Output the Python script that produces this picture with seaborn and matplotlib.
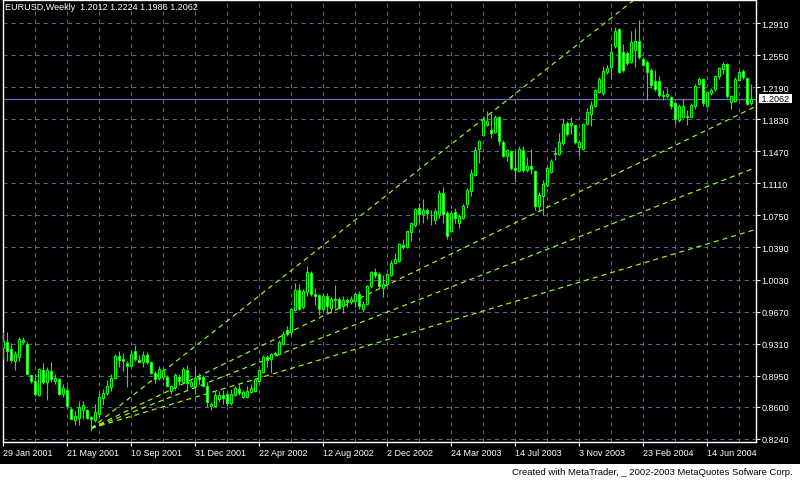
import numpy as np
import matplotlib
matplotlib.use("Agg")
import matplotlib.pyplot as plt
import matplotlib.transforms as mtransforms
from matplotlib.patches import Rectangle
import seaborn as sns

# EURUSD weekly candles from 29 Jan 2001
opens = [0.926, 0.933, 0.925, 0.912, 0.916, 0.933, 0.931, 0.896, 0.889, 0.873,
         0.902, 0.888, 0.900, 0.889, 0.891, 0.875, 0.879, 0.858, 0.845, 0.848,
         0.857, 0.856, 0.849, 0.845, 0.852, 0.870, 0.876, 0.882, 0.892, 0.917,
         0.914, 0.909, 0.906, 0.923, 0.913, 0.910, 0.918, 0.910, 0.898, 0.892,
         0.894, 0.894, 0.878, 0.882, 0.894, 0.888, 0.902, 0.883, 0.884, 0.894,
         0.894, 0.884, 0.861, 0.861, 0.869, 0.873, 0.875, 0.864, 0.873, 0.880,
         0.871, 0.871, 0.877, 0.878, 0.889, 0.899, 0.916, 0.914, 0.919, 0.919,
         0.931, 0.946, 0.944, 0.969, 0.991, 0.972, 0.989, 1.010, 0.987, 0.986,
         0.970, 0.984, 0.971, 0.981, 0.981, 0.973, 0.980, 0.978, 0.979, 0.987,
         0.970, 0.976, 0.996, 1.011, 1.009, 0.993, 0.998, 1.008, 1.022, 1.024,
         1.042, 1.040, 1.056, 1.064, 1.083, 1.077, 1.081, 1.076, 1.070, 1.077,
         1.100, 1.078, 1.058, 1.079, 1.067, 1.072, 1.088, 1.102, 1.120, 1.150,
         1.165, 1.177, 1.171, 1.169, 1.186, 1.157, 1.142, 1.147, 1.128, 1.125,
         1.148, 1.126, 1.130, 1.125, 1.086, 1.097, 1.109, 1.124, 1.144, 1.144,
         1.156, 1.179, 1.176, 1.176, 1.152, 1.149, 1.178, 1.189, 1.198, 1.213,
         1.212, 1.236, 1.242, 1.265, 1.284, 1.258, 1.257, 1.247, 1.261, 1.271,
         1.251, 1.247, 1.238, 1.226, 1.226, 1.210, 1.209, 1.208, 1.201, 1.182,
         1.186, 1.187, 1.186, 1.198, 1.222, 1.228, 1.198, 1.212, 1.217, 1.231,
         1.239, 1.245, 1.202, 1.203, 1.227, 1.237, 1.229, 1.2012]
highs = [0.944, 0.944, 0.932, 0.923, 0.938, 0.938, 0.933, 0.897, 0.897, 0.904,
         0.909, 0.905, 0.910, 0.897, 0.893, 0.886, 0.883, 0.860, 0.855, 0.867,
         0.867, 0.858, 0.850, 0.863, 0.877, 0.880, 0.890, 0.897, 0.919, 0.923,
         0.921, 0.911, 0.924, 0.930, 0.918, 0.923, 0.922, 0.912, 0.900, 0.906,
         0.904, 0.896, 0.884, 0.898, 0.897, 0.905, 0.907, 0.890, 0.906, 0.898,
         0.896, 0.888, 0.866, 0.878, 0.878, 0.879, 0.876, 0.880, 0.884, 0.887,
         0.879, 0.884, 0.886, 0.893, 0.901, 0.918, 0.918, 0.921, 0.923, 0.935,
         0.945, 0.951, 0.971, 0.999, 0.998, 0.992, 1.018, 1.013, 0.993, 0.987,
         0.988, 0.988, 0.983, 0.997, 0.983, 0.984, 0.982, 0.985, 0.989, 0.990,
         0.979, 0.997, 1.013, 1.016, 1.011, 1.008, 1.010, 1.025, 1.033, 1.044,
         1.049, 1.058, 1.068, 1.083, 1.089, 1.093, 1.083, 1.081, 1.083, 1.104,
         1.107, 1.080, 1.081, 1.083, 1.077, 1.088, 1.106, 1.127, 1.153, 1.160,
         1.184, 1.192, 1.190, 1.188, 1.187, 1.160, 1.150, 1.148, 1.147, 1.153,
         1.153, 1.141, 1.150, 1.126, 1.101, 1.115, 1.131, 1.138, 1.152, 1.168,
         1.184, 1.181, 1.185, 1.177, 1.159, 1.179, 1.196, 1.203, 1.217, 1.230,
         1.243, 1.244, 1.267, 1.286, 1.285, 1.267, 1.260, 1.282, 1.285, 1.294,
         1.253, 1.249, 1.240, 1.238, 1.232, 1.216, 1.218, 1.209, 1.202, 1.200,
         1.206, 1.193, 1.201, 1.222, 1.230, 1.229, 1.215, 1.218, 1.233, 1.242,
         1.247, 1.246, 1.210, 1.230, 1.238, 1.239, 1.230, 1.2224]
lows = [0.914, 0.912, 0.910, 0.901, 0.911, 0.931, 0.897, 0.887, 0.872, 0.872,
        0.886, 0.868, 0.888, 0.886, 0.873, 0.871, 0.860, 0.846, 0.840, 0.840,
        0.847, 0.847, 0.833, 0.843, 0.848, 0.862, 0.873, 0.878, 0.891, 0.905,
        0.900, 0.882, 0.905, 0.912, 0.909, 0.905, 0.908, 0.897, 0.887, 0.890,
        0.890, 0.882, 0.874, 0.879, 0.885, 0.887, 0.878, 0.882, 0.874, 0.886,
        0.882, 0.860, 0.856, 0.860, 0.866, 0.863, 0.861, 0.862, 0.872, 0.873,
        0.870, 0.870, 0.876, 0.877, 0.887, 0.898, 0.905, 0.898, 0.917, 0.918,
        0.930, 0.940, 0.940, 0.968, 0.969, 0.970, 0.985, 0.984, 0.974, 0.963,
        0.968, 0.966, 0.966, 0.971, 0.970, 0.965, 0.972, 0.975, 0.972, 0.970,
        0.967, 0.974, 0.994, 1.005, 0.994, 0.983, 0.996, 1.007, 1.021, 1.023,
        1.037, 1.038, 1.046, 1.062, 1.068, 1.066, 1.071, 1.064, 1.065, 1.072,
        1.066, 1.049, 1.056, 1.066, 1.061, 1.071, 1.083, 1.097, 1.119, 1.134,
        1.164, 1.175, 1.162, 1.168, 1.154, 1.141, 1.136, 1.126, 1.114, 1.124,
        1.124, 1.124, 1.122, 1.081, 1.079, 1.075, 1.107, 1.123, 1.137, 1.143,
        1.154, 1.164, 1.166, 1.155, 1.142, 1.148, 1.177, 1.175, 1.197, 1.212,
        1.210, 1.234, 1.229, 1.263, 1.235, 1.236, 1.244, 1.246, 1.242, 1.251,
        1.243, 1.204, 1.218, 1.215, 1.208, 1.204, 1.207, 1.195, 1.178, 1.180,
        1.184, 1.177, 1.185, 1.195, 1.221, 1.198, 1.197, 1.210, 1.215, 1.228,
        1.234, 1.207, 1.195, 1.202, 1.226, 1.228, 1.199, 1.1986]
closes = [0.934, 0.923, 0.913, 0.919, 0.936, 0.935, 0.897, 0.889, 0.875, 0.903,
          0.888, 0.902, 0.891, 0.892, 0.875, 0.881, 0.861, 0.847, 0.850, 0.860,
          0.862, 0.848, 0.847, 0.854, 0.871, 0.876, 0.884, 0.892, 0.917, 0.913,
          0.911, 0.906, 0.919, 0.914, 0.910, 0.918, 0.910, 0.898, 0.891, 0.903,
          0.901, 0.883, 0.883, 0.896, 0.889, 0.903, 0.887, 0.888, 0.893, 0.891,
          0.883, 0.865, 0.863, 0.873, 0.873, 0.870, 0.864, 0.874, 0.881, 0.876,
          0.877, 0.878, 0.881, 0.891, 0.901, 0.916, 0.913, 0.919, 0.921, 0.933,
          0.942, 0.942, 0.970, 0.991, 0.970, 0.990, 1.011, 0.987, 0.985, 0.970,
          0.985, 0.973, 0.981, 0.980, 0.971, 0.980, 0.978, 0.981, 0.987, 0.973,
          0.976, 0.996, 1.012, 1.008, 0.996, 0.998, 1.009, 1.022, 1.026, 1.043,
          1.039, 1.057, 1.066, 1.082, 1.077, 1.081, 1.078, 1.075, 1.080, 1.100,
          1.077, 1.052, 1.078, 1.072, 1.074, 1.086, 1.103, 1.123, 1.148, 1.158,
          1.183, 1.181, 1.168, 1.186, 1.159, 1.142, 1.148, 1.128, 1.126, 1.149,
          1.126, 1.130, 1.127, 1.086, 1.098, 1.110, 1.128, 1.136, 1.145, 1.157,
          1.178, 1.166, 1.179, 1.157, 1.157, 1.178, 1.191, 1.199, 1.216, 1.228,
          1.237, 1.241, 1.258, 1.282, 1.236, 1.238, 1.246, 1.270, 1.271, 1.253,
          1.244, 1.236, 1.221, 1.217, 1.210, 1.209, 1.211, 1.198, 1.183, 1.198,
          1.198, 1.186, 1.199, 1.220, 1.228, 1.201, 1.213, 1.216, 1.231, 1.240,
          1.245, 1.209, 1.209, 1.228, 1.236, 1.230, 1.200, 1.2062]

date_labels = ["29 Jan 2001", "21 May 2001", "10 Sep 2001", "31 Dec 2001",
               "22 Apr 2002", "12 Aug 2002", "2 Dec 2002", "24 Mar 2003",
               "14 Jul 2003", "3 Nov 2003", "23 Feb 2004", "14 Jun 2004"]
price_labels = ["1.2910", "1.2550", "1.2190", "1.1830", "1.1470", "1.1110",
                "1.0750", "1.0390", "1.0030", "0.9670", "0.9310", "0.8950",
                "0.8600", "0.8240"]

last_price = 1.2062
title = "EURUSD,Weekly  1.2012 1.2224 1.1986 1.2062"

# fan drawn from the May 2001 low: start week/price and price at week 188
fan_start = (22, 0.836)
fan_end_week = 188
fan_end_prices = [1.424, 1.197, 1.1285, 1.059]

LIME = "#00ff00"
FAN = "#9cff1a"
GRID = "#62628c"

sns.set_theme(style="dark", rc={
    "axes.facecolor": "black",
    "figure.facecolor": "black",
    "axes.edgecolor": "white",
    "text.color": "white",
    "xtick.color": "white",
    "ytick.color": "white",
    "lines.scale_dashes": False,
})
plt.rcParams["font.family"] = ["Liberation Sans", "DejaVu Sans"]

fig = plt.figure(figsize=(8, 4.81), dpi=100)
ax = fig.add_axes([3 / 800, 38 / 481, 753 / 800, 442 / 481])

o = np.array(opens)
h = np.array(highs)
l = np.array(lows)
c = np.array(closes)
weeks = np.arange(len(c))
up = c >= o

# wicks then bodies (bull = black body, bear = white body)
ax.vlines(weeks, l, h, color=LIME, lw=0.8, zorder=3)
ax.bar(weeks, np.abs(c - o), bottom=np.minimum(o, c), width=0.5,
       color=np.where(up, "black", "white"), edgecolor=LIME,
       linewidth=0.8, zorder=4)

# fan lines
for end in fan_end_prices:
    sns.lineplot(x=[fan_start[0], fan_end_week], y=[fan_start[1], end],
                 ax=ax, color=FAN, lw=0.85,
                 linestyle=(0, (3.6, 2.9)), zorder=2)

ax.axhline(last_price, color="#6c6cc4", lw=0.9, zorder=2)

ax.set_xlim(-0.05, 188.25)
ax.set_ylim(0.82063, 1.31682)

ax.yaxis.tick_right()
ax.set_yticks([float(s) for s in price_labels])
ax.set_yticklabels(price_labels)
ax.set_xticks(weeks[::16][:len(date_labels)])
ax.set_xticklabels(date_labels, ha="left")
ax.set_xticks(weeks[8::16], minor=True)

ax.tick_params(axis="both", which="major", colors="white", labelsize=6.5,
               length=3, width=0.75, direction="out", pad=1)
ax.tick_params(axis="x", which="minor", length=0)
ax.tick_params(axis="y", right=True, left=False, labelright=True,
               labelleft=False)
ax.tick_params(axis="x", bottom=True)

ax.grid(False)
ax.grid(True, axis="x", which="both", color=GRID, lw=0.75,
        linestyle=(0, (2.9, 2.9)))
ax.grid(True, axis="y", which="major", color=GRID, lw=0.75,
        linestyle=(0, (2.9, 2.9)))
ax.set_axisbelow(True)
for sp in ax.spines.values():
    sp.set_color("white")
    sp.set_linewidth(1)
    sp.set_visible(True)

# last price tag on the scale
trans = mtransforms.blended_transform_factory(ax.transAxes, ax.transData)
ax.text(1.004, last_price, " 1.2062 ", transform=trans, ha="left",
        va="center", color="black", fontsize=6.5, clip_on=False,
        bbox=dict(boxstyle="square,pad=0.05", fc="white", ec="none"))

fig.text(5 / 800, 1 - 3 / 481, title, ha="left", va="top",
         color="white", fontsize=6.5)

fig.add_artist(Rectangle((0, 0), 1, 16 / 481, transform=fig.transFigure,
                         fc="white", ec="none"))
fig.text(793 / 800, 8 / 481,
         "Created with MetaTrader, _ 2002-2003 MetaQuotes Sofware Corp.",
         ha="right", va="center", color="black", fontsize=6.8)

fig.savefig("out.png", dpi=100, facecolor="black")
